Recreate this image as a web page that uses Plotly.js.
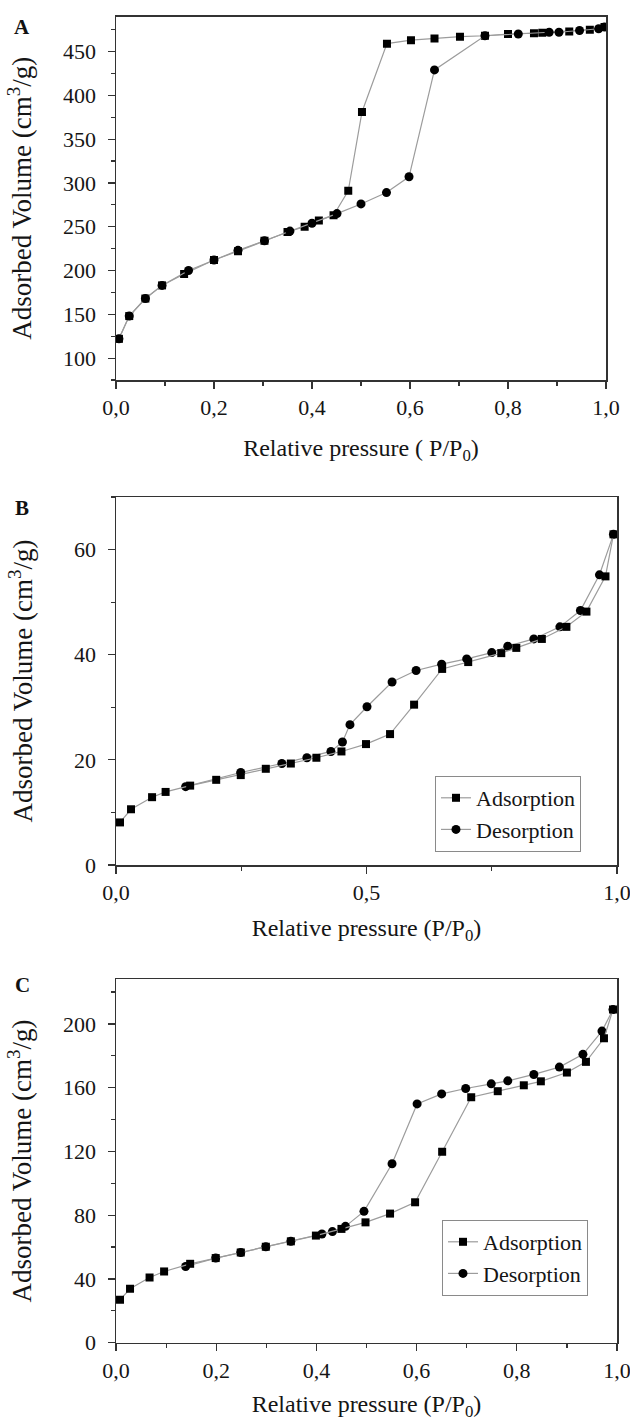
<!DOCTYPE html>
<html>
<head>
<meta charset="utf-8">
<script src="https://cdn.plot.ly/plotly-3.0.1.min.js"></script>
<style>html,body{margin:0;padding:0;background:#fff;}#chart{width:630px;height:1421px;}</style>
</head>
<body>
<div id="chart"></div>
<script>
// ---------- DATA ----------
// Panel A
const adsA_x = [0.006, 0.027, 0.06, 0.094, 0.139, 0.2, 0.249, 0.303, 0.35, 0.385, 0.414, 0.444, 0.474, 0.502, 0.553, 0.602, 0.65, 0.702, 0.753, 0.80, 0.853, 0.87, 0.925, 0.967, 0.997];
const adsA_y = [122, 148, 168, 183, 196, 212, 222, 234, 244, 250, 257, 263, 291, 381, 459, 463, 465, 467, 468, 470, 471, 471.5, 473, 475, 478];
const desA_x = [0.997, 0.985, 0.946, 0.904, 0.884, 0.821, 0.753, 0.65, 0.598, 0.552, 0.50, 0.451, 0.40, 0.355, 0.303, 0.249, 0.2, 0.148, 0.094, 0.06, 0.027, 0.006];
const desA_y = [478, 476, 474, 472, 472, 470, 468, 429, 307, 289, 276, 265, 254, 245, 234, 223, 212, 200, 183, 168, 148, 122];

// Panel B
const adsB_x = [0.008, 0.030, 0.072, 0.099, 0.148, 0.2, 0.249, 0.299, 0.349, 0.40, 0.45, 0.499, 0.547, 0.595, 0.651, 0.703, 0.769, 0.799, 0.850, 0.899, 0.939, 0.977, 0.993];
const adsB_y = [8.1, 10.6, 12.9, 13.9, 15.1, 16.2, 17.1, 18.3, 19.3, 20.4, 21.6, 23.0, 24.9, 30.5, 37.3, 38.6, 40.3, 41.3, 43.0, 45.3, 48.2, 54.9, 62.9];
const desB_x = [0.993, 0.965, 0.927, 0.886, 0.834, 0.782, 0.75, 0.70, 0.65, 0.599, 0.551, 0.501, 0.467, 0.452, 0.429, 0.381, 0.331, 0.249, 0.139];
const desB_y = [62.9, 55.2, 48.4, 45.3, 43.0, 41.6, 40.4, 39.2, 38.2, 37.0, 34.8, 30.1, 26.7, 23.4, 21.6, 20.4, 19.3, 17.6, 14.9];

// Panel C
const adsC_x = [0.008, 0.028, 0.067, 0.096, 0.148, 0.199, 0.249, 0.299, 0.349, 0.399, 0.45, 0.498, 0.547, 0.597, 0.651, 0.709, 0.762, 0.814, 0.848, 0.90, 0.938, 0.974, 0.992];
const adsC_y = [26.9, 33.8, 40.9, 44.7, 49.5, 53.1, 56.6, 60.2, 63.6, 67.2, 71.4, 75.5, 81, 88.1, 119.8, 154, 157.8, 161.5, 164, 169.5, 176.2, 191, 209];
const desC_x = [0.992, 0.970, 0.932, 0.885, 0.834, 0.782, 0.749, 0.698, 0.65, 0.601, 0.551, 0.495, 0.458, 0.432, 0.411, 0.349, 0.299, 0.249, 0.199, 0.139];
const desC_y = [209, 195.5, 180.9, 172.9, 168.3, 164.3, 162.4, 159.5, 156.1, 149.8, 112.3, 82.4, 73, 69.7, 68.2, 63.6, 60.2, 56.6, 53.1, 47.8];

const seriesNames = ["Adsorption", "Desorption"];
const panelLabels = ["A", "B", "C"];
const xTitles = ["Relative pressure ( P/P<sub>0</sub>)", "Relative pressure (P/P<sub>0</sub>)", "Relative pressure (P/P<sub>0</sub>)"];
const yTitle = "Adsorbed Volume (cm<sup>3</sup>/g)";

// ---------- LAYOUT HELPERS ----------
const W = 630, H = 1421;
const fx = p => p / W;
const fy = p => 1 - p / H;
const FONT = '"Liberation Serif", "Times New Roman", serif';
const LINE = "#9c9c9c";
const AXC = "#333333";
const TXT = "#151515";

function tr(x, y, name, sym, xa, ya, legend, show) {
  return {
    x: x, y: y, name: name, type: "scatter", mode: "lines+markers",
    xaxis: xa, yaxis: ya, legend: legend, showlegend: show,
    line: {color: LINE, width: 1.2},
    marker: {symbol: sym, size: sym === "square" ? 8 : 9, color: "#000"},
    legendrank: name === "Adsorption" ? 1 : 2
  };
}

const data = [
  tr(adsA_x, adsA_y, seriesNames[0], "square", "x", "y", "legend", false),
  tr(desA_x, desA_y, seriesNames[1], "circle", "x", "y", "legend", false),
  tr(desB_x, desB_y, seriesNames[1], "circle", "x2", "y2", "legend", true),
  tr(adsB_x, adsB_y, seriesNames[0], "square", "x2", "y2", "legend", true),
  tr(desC_x, desC_y, seriesNames[1], "circle", "x3", "y3", "legend2", true),
  tr(adsC_x, adsC_y, seriesNames[0], "square", "x3", "y3", "legend2", true)
];

function xax(dom, anchor, dtick, minor, title, standoff) {
  return {
    domain: dom, anchor: anchor, range: [0, 1], dtick: dtick, tick0: 0,
    tickformat: ".1f", ticks: "outside", ticklen: 7, tickwidth: 1.2, tickcolor: AXC,
    ticklabeloverflow: "allow",
    minor: {dtick: minor, tick0: 0, ticks: "outside", ticklen: 4, tickwidth: 1.2, tickcolor: AXC, showgrid: false},
    showline: true, mirror: true, linecolor: AXC, linewidth: 1.5,
    showgrid: false, zeroline: false, automargin: false,
    tickfont: {family: FONT, size: 22, color: TXT},
    title: {text: title, font: {family: FONT, size: 24, color: TXT}, standoff: standoff}
  };
}
function yax(dom, anchor, range, dtick, minor, standoff) {
  return {
    domain: dom, anchor: anchor, range: range, dtick: dtick, tick0: 0,
    ticks: "outside", ticklen: 7, tickwidth: 1.2, tickcolor: AXC, ticklabelstandoff: 7,
    ticklabeloverflow: "allow",
    minor: {dtick: minor, tick0: 0, ticks: "outside", ticklen: 4, tickwidth: 1.2, tickcolor: AXC, showgrid: false},
    showline: true, mirror: true, linecolor: AXC, linewidth: 1.5,
    showgrid: false, zeroline: false, automargin: false,
    tickfont: {family: FONT, size: 22, color: TXT},
    title: {text: yTitle, font: {family: FONT, size: 27, color: TXT}, standoff: standoff}
  };
}

const legendStyle = (x, y) => ({
  x: fx(x), y: fy(y), xanchor: "left", yanchor: "top",
  bgcolor: "#fff", bordercolor: "#8a8a8a", borderwidth: 1,
  font: {family: FONT, size: 22, color: TXT}, traceorder: "normal",
  itemwidth: 30
});

const layout = {
  width: W, height: H, autosize: false,
  margin: {l: 0, r: 0, t: 0, b: 0},
  paper_bgcolor: "#fff", plot_bgcolor: "#fff",
  separators: ",.",
  font: {family: FONT, color: TXT},
  xaxis: xax([fx(116), fx(606)], "y", 0.2, 0.1, xTitles[0], 20),
  yaxis: yax([fy(380), fy(16.5)], "x", [75, 490], 50, 25, 23),
  xaxis2: xax([fx(116), fx(617)], "y2", 0.5, 0.25, xTitles[1], 15),
  yaxis2: yax([fy(865), fy(497)], "x2", [0, 70], 20, 10, 33),
  xaxis3: xax([fx(116), fx(617)], "y3", 0.2, 0.1, xTitles[2], 20),
  yaxis3: yax([fy(1342.7), fy(979.3)], "x3", [0, 228], 40, 20, 23),
  legend: legendStyle(435, 776),
  legend2: legendStyle(442, 1220),
  annotations: [
    {text: "<b>" + panelLabels[0] + "</b>", x: fx(22), y: fy(27), xref: "paper", yref: "paper", showarrow: false, xanchor: "center", yanchor: "middle", font: {family: FONT, size: 21, color: "#111"}},
    {text: "<b>" + panelLabels[1] + "</b>", x: fx(22), y: fy(508), xref: "paper", yref: "paper", showarrow: false, xanchor: "center", yanchor: "middle", font: {family: FONT, size: 21, color: "#111"}},
    {text: "<b>" + panelLabels[2] + "</b>", x: fx(22), y: fy(985), xref: "paper", yref: "paper", showarrow: false, xanchor: "center", yanchor: "middle", font: {family: FONT, size: 21, color: "#111"}}
  ]
};

Plotly.newPlot("chart", data, layout, {staticPlot: true, displayModeBar: false});
</script>
</body>
</html>
